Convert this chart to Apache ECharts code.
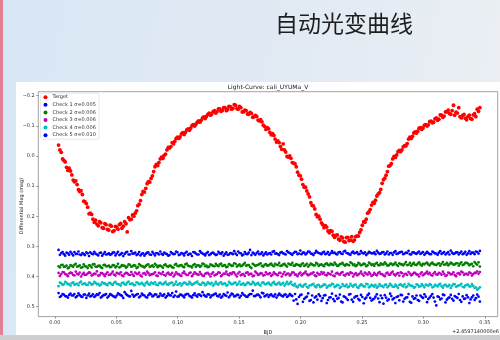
<!DOCTYPE html>
<html><head><meta charset="utf-8">
<script src="https://cdn.jsdelivr.net/npm/echarts@6/dist/echarts.min.js"></script>
<style>html,body{margin:0;padding:0;background:#e3ebf4}#c{width:500px;height:340px}</style>
</head><body><div id="c"></div>
<script>
const pageTitle = '自动光变曲线';
const chartTitle = 'Light-Curve: cali_UYUMa_V';
const xName = 'BJD';
const yName = 'Differential Mag (mag)';
const offsetText = '+2.4597140000e6';
const xTicks = [0.00,0.05,0.10,0.15,0.20,0.25,0.30,0.35];
const yTicks = [-0.2,-0.1,0.0,0.1,0.2,0.3,0.4,0.5];
const seriesNames = ['Target','Check 1 σ=0.005','Check 2 σ=0.006','Check 3 σ=0.006','Check 4 σ=0.006','Check 5 σ=0.010'];

// observation times (BJD - 2459714), first batch
const timesA = [
0.0030,0.0052,0.0073,0.0095,0.0116,0.0138,0.0159,0.0181,0.0202,0.0224,
0.0245,0.0267,0.0288,0.0310,0.0331,0.0353,0.0374,0.0396,0.0417,0.0439,
0.0460,0.0482,0.0503,0.0525,0.0546,0.0568,0.0589,0.0611,0.0632,0.0654,
0.0675,0.0697,0.0718,0.0740,0.0761,0.0783,0.0804,0.0826,0.0847,0.0869,
0.0890,0.0912,0.0933,0.0955,0.0976,0.0998,0.1019,0.1041,0.1062,0.1084,
0.1105,0.1127,0.1148,0.1170,0.1191,0.1213,0.1234,0.1256,0.1277,0.1299,
0.1320,0.1342,0.1363,0.1385,0.1406,0.1428,0.1449,0.1471,0.1492,0.1514,
0.1535,0.1557,0.1578,0.1600,0.1621,0.1643,0.1664,0.1686,0.1707,0.1729,
0.1750,0.1772,0.1793,0.1815,0.1836,0.1858,0.1879,0.1901,0.1922,0.1944,
0.1965,0.1987,0.2008,0.2030,0.2051,0.2073,0.2094,0.2116,0.2137,0.2159,
0.2180,0.2202,0.2223,0.2245,0.2266,0.2288,0.2309,0.2331,0.2352,0.2374,
0.2395,0.2417,0.2438,0.2460,0.2481,0.2503,0.2524,0.2546,0.2567,0.2589,
0.2610,0.2632,0.2653,0.2675,0.2696,0.2718,0.2739,0.2761,0.2782,0.2804,
0.2825,0.2847,0.2868,0.2890,0.2911,0.2933,0.2954,0.2976,0.2997,0.3019,
0.3040,0.3062,0.3083,0.3105,0.3126,0.3148,0.3169,0.3191,0.3212,0.3234,
0.3255,0.3277,0.3298,0.3320,0.3341,0.3363,0.3384,0.3406,0.3427,0.3449];
// second batch of exposures, interleaved
const timesB = [
0.0041,0.0063,0.0084,0.0106,0.0127,0.0149,0.0170,0.0192,0.0213,0.0235,
0.0256,0.0278,0.0299,0.0321,0.0342,0.0364,0.0385,0.0407,0.0428,0.0450,
0.0471,0.0493,0.0514,0.0536,0.0557,0.0579,0.0600,0.0622,0.0643,0.0665,
0.0686,0.0708,0.0729,0.0751,0.0772,0.0794,0.0815,0.0837,0.0858,0.0880,
0.0901,0.0923,0.0944,0.0966,0.0987,0.1009,0.1030,0.1052,0.1073,0.1095,
0.1116,0.1138,0.1159,0.1181,0.1202,0.1224,0.1245,0.1267,0.1288,0.1310,
0.1331,0.1353,0.1374,0.1396,0.1417,0.1439,0.1460,0.1482,0.1503,0.1525,
0.1546,0.1568,0.1589,0.1611,0.1632,0.1654,0.1675,0.1697,0.1718,0.1740,
0.1761,0.1783,0.1804,0.1826,0.1847,0.1869,0.1890,0.1912,0.1933,0.1955,
0.1976,0.1998,0.2019,0.2041,0.2062,0.2084,0.2105,0.2127,0.2148,0.2170,
0.2191,0.2213,0.2234,0.2256,0.2277,0.2299,0.2320,0.2342,0.2363,0.2385,
0.2406,0.2428,0.2449,0.2471,0.2492,0.2514,0.2535,0.2557,0.2578,0.2600,
0.2621,0.2643,0.2664,0.2686,0.2707,0.2729,0.2750,0.2772,0.2793,0.2815,
0.2836,0.2858,0.2879,0.2901,0.2922,0.2944,0.2965,0.2987,0.3008,0.3030,
0.3051,0.3073,0.3094,0.3116,0.3137,0.3159,0.3180,0.3202,0.3223,0.3245,
0.3266,0.3288,0.3309,0.3331,0.3352,0.3374,0.3395,0.3417,0.3438,0.3460];

const targetA = [
-0.036,-0.012,0.015,0.038,0.041,0.063,0.086,0.095,0.118,0.128,
0.152,0.170,0.190,0.210,0.213,0.232,0.222,0.240,0.228,0.246,
0.233,0.248,0.236,0.228,0.240,0.218,0.252,0.212,0.196,0.190,
0.165,0.148,0.118,0.108,0.085,0.075,0.052,0.028,0.022,0.004,
-0.002,-0.020,-0.026,-0.044,-0.048,-0.062,-0.063,-0.077,-0.078,-0.090,
-0.092,-0.104,-0.105,-0.116,-0.118,-0.129,-0.131,-0.142,-0.139,-0.150,
-0.147,-0.156,-0.151,-0.160,-0.154,-0.163,-0.158,-0.168,-0.155,-0.160,
-0.146,-0.150,-0.138,-0.141,-0.130,-0.131,-0.116,-0.113,-0.098,-0.094,
-0.078,-0.074,-0.056,-0.050,-0.031,-0.040,-0.013,0.004,0.008,0.024,
0.036,0.064,0.077,0.104,0.116,0.136,0.164,0.176,0.202,0.210,
0.228,0.231,0.249,0.248,0.263,0.264,0.276,0.269,0.284,0.271,
0.281,0.268,0.279,0.265,0.254,0.230,0.220,0.190,0.178,0.154,
0.147,0.126,0.111,0.079,0.064,0.034,0.026,0.002,-0.003,-0.018,
-0.020,-0.034,-0.041,-0.062,-0.065,-0.080,-0.082,-0.094,-0.093,-0.104,
-0.103,-0.115,-0.112,-0.126,-0.122,-0.135,-0.132,-0.146,-0.141,-0.150,
-0.135,-0.142,-0.130,-0.134,-0.125,-0.131,-0.124,-0.136,-0.130,-0.148];
const targetB = [
-0.020,0.010,0.020,0.048,0.050,0.080,0.083,0.112,0.115,0.150,
0.158,0.192,0.194,0.220,0.226,0.218,0.238,0.225,0.244,0.230,
0.251,0.234,0.243,0.224,0.233,0.225,0.205,0.210,0.200,0.182,
0.160,0.128,0.120,0.092,0.087,0.066,0.036,0.032,0.010,0.008,
-0.006,-0.028,-0.031,-0.040,-0.058,-0.058,-0.073,-0.071,-0.086,-0.085,
-0.100,-0.099,-0.112,-0.112,-0.126,-0.124,-0.138,-0.135,-0.147,-0.142,
-0.156,-0.148,-0.160,-0.150,-0.164,-0.155,-0.170,-0.157,-0.164,-0.146,
-0.152,-0.139,-0.144,-0.128,-0.134,-0.119,-0.120,-0.102,-0.088,-0.090,
-0.070,-0.068,-0.046,-0.044,-0.022,-0.020,0.002,0.000,0.022,0.026,
0.054,0.066,0.095,0.104,0.126,0.155,0.166,0.194,0.200,0.222,
0.238,0.236,0.255,0.250,0.270,0.262,0.280,0.272,0.286,0.270,
0.279,0.283,0.268,0.266,0.245,0.218,0.210,0.186,0.163,0.157,
0.133,0.122,0.091,0.074,0.052,0.032,0.010,0.005,-0.014,-0.014,
-0.030,-0.033,-0.056,-0.058,-0.076,-0.076,-0.092,-0.088,-0.102,-0.099,
-0.114,-0.110,-0.123,-0.118,-0.136,-0.128,-0.146,-0.152,-0.138,-0.168,
-0.145,-0.160,-0.126,-0.138,-0.120,-0.135,-0.122,-0.140,-0.155,-0.160];

const check1A = [
0.312,0.322,0.326,0.321,0.328,0.324,0.319,0.325,0.327,0.322,0.329,0.323,0.320,0.326,0.324,0.330,0.321,0.325,0.327,0.323,
0.326,0.320,0.324,0.329,0.322,0.325,0.318,0.327,0.324,0.321,0.326,0.330,0.323,0.325,0.320,0.328,0.324,0.322,0.327,0.325,
0.321,0.326,0.329,0.323,0.325,0.320,0.327,0.324,0.322,0.328,0.325,0.319,0.324,0.327,0.321,0.326,0.323,0.329,0.322,0.325,
0.327,0.323,0.320,0.325,0.328,0.322,0.326,0.324,0.317,0.323,0.327,0.325,0.321,0.329,0.324,0.322,0.326,0.320,0.325,0.327,
0.322,0.318,0.324,0.326,0.321,0.323,0.327,0.320,0.325,0.322,0.319,0.324,0.326,0.321,0.323,0.318,0.325,0.322,0.320,0.324,
0.321,0.326,0.319,0.323,0.322,0.325,0.320,0.324,0.317,0.322,0.326,0.321,0.323,0.319,0.325,0.322,0.320,0.324,0.321,0.323,
0.326,0.321,0.324,0.319,0.323,0.327,0.322,0.320,0.325,0.321,0.318,0.324,0.322,0.326,0.320,0.323,0.321,0.325,0.319,0.323,
0.322,0.326,0.320,0.324,0.321,0.325,0.319,0.323,0.327,0.321,0.324,0.320,0.322,0.326,0.318,0.323,0.325,0.321,0.317,0.324];
const check1B = [
0.328,0.319,0.331,0.323,0.318,0.330,0.325,0.317,0.329,0.326,0.320,0.332,0.324,0.318,0.327,0.322,0.331,0.319,0.326,0.328,
0.321,0.330,0.318,0.326,0.332,0.320,0.327,0.316,0.324,0.329,0.319,0.325,0.331,0.321,0.327,0.318,0.330,0.323,0.317,0.328,
0.324,0.331,0.319,0.326,0.317,0.329,0.322,0.330,0.318,0.325,0.332,0.320,0.327,0.316,0.324,0.330,0.319,0.326,0.321,0.329,
0.318,0.325,0.331,0.320,0.327,0.323,0.316,0.329,0.322,0.330,0.319,0.326,0.312,0.321,0.328,0.317,0.325,0.330,0.320,0.324,
0.327,0.316,0.323,0.329,0.319,0.325,0.316,0.322,0.328,0.318,0.326,0.314,0.321,0.327,0.317,0.324,0.329,0.315,0.322,0.326,
0.318,0.324,0.328,0.316,0.321,0.327,0.319,0.325,0.315,0.323,0.328,0.317,0.322,0.326,0.316,0.324,0.329,0.318,0.323,0.320,
0.315,0.325,0.320,0.327,0.317,0.322,0.328,0.316,0.324,0.319,0.326,0.321,0.315,0.327,0.320,0.325,0.317,0.322,0.328,0.318,
0.326,0.317,0.323,0.328,0.316,0.322,0.327,0.319,0.314,0.325,0.320,0.327,0.317,0.323,0.328,0.316,0.321,0.326,0.319,0.315];

const check2A = [
0.366,0.362,0.368,0.364,0.370,0.365,0.361,0.367,0.363,0.369,0.366,0.372,0.364,0.360,0.367,0.365,0.369,0.362,0.366,0.364,
0.368,0.363,0.366,0.370,0.362,0.365,0.367,0.361,0.366,0.364,0.369,0.363,0.367,0.365,0.360,0.366,0.368,0.363,0.365,0.367,
0.362,0.366,0.364,0.369,0.361,0.365,0.363,0.367,0.360,0.364,0.366,0.362,0.368,0.363,0.365,0.359,0.364,0.367,0.362,0.366,
0.363,0.360,0.365,0.362,0.367,0.361,0.364,0.358,0.363,0.366,0.360,0.364,0.362,0.372,0.361,0.363,0.359,0.365,0.361,0.364,
0.360,0.363,0.358,0.362,0.365,0.360,0.363,0.357,0.361,0.364,0.359,0.362,0.360,0.365,0.358,0.362,0.360,0.363,0.358,0.361,
0.363,0.359,0.361,0.357,0.362,0.360,0.364,0.358,0.361,0.359,0.363,0.356,0.360,0.362,0.358,0.361,0.359,0.363,0.357,0.360,
0.358,0.362,0.356,0.360,0.358,0.363,0.357,0.359,0.361,0.356,0.360,0.358,0.362,0.355,0.359,0.361,0.357,0.360,0.358,0.356,
0.360,0.357,0.359,0.362,0.356,0.358,0.361,0.355,0.359,0.357,0.360,0.356,0.358,0.362,0.355,0.357,0.360,0.366,0.357,0.353];
const check2B = [
0.370,0.361,0.367,0.373,0.362,0.368,0.358,0.366,0.371,0.360,0.367,0.363,0.370,0.359,0.368,0.364,0.372,0.361,0.366,0.369,
0.362,0.370,0.358,0.367,0.364,0.371,0.360,0.368,0.362,0.372,0.359,0.366,0.370,0.361,0.368,0.363,0.358,0.369,0.364,0.371,
0.360,0.368,0.365,0.371,0.358,0.366,0.362,0.369,0.357,0.366,0.370,0.359,0.363,0.368,0.357,0.366,0.369,0.360,0.365,0.358,
0.366,0.357,0.364,0.369,0.359,0.365,0.356,0.367,0.360,0.364,0.355,0.362,0.368,0.358,0.365,0.361,0.356,0.367,0.359,0.363,
0.357,0.366,0.361,0.355,0.364,0.358,0.367,0.360,0.355,0.364,0.361,0.366,0.356,0.362,0.367,0.357,0.363,0.355,0.365,0.360,
0.366,0.356,0.363,0.360,0.354,0.365,0.359,0.355,0.364,0.361,0.353,0.362,0.366,0.355,0.363,0.357,0.366,0.354,0.362,0.365,
0.355,0.363,0.360,0.353,0.364,0.358,0.362,0.354,0.365,0.359,0.363,0.352,0.361,0.364,0.355,0.362,0.353,0.364,0.360,0.354,
0.363,0.354,0.361,0.358,0.364,0.352,0.360,0.363,0.354,0.361,0.356,0.364,0.353,0.360,0.355,0.363,0.358,0.352,0.361,0.367];

const check3A = [
0.388,0.392,0.386,0.394,0.390,0.389,0.396,0.391,0.387,0.393,0.395,0.390,0.388,0.394,0.392,0.397,0.389,0.393,0.391,0.395,
0.390,0.394,0.388,0.392,0.396,0.391,0.389,0.395,0.393,0.387,0.392,0.396,0.390,0.394,0.389,0.393,0.391,0.397,0.388,0.392,
0.395,0.390,0.393,0.388,0.394,0.392,0.396,0.389,0.391,0.395,0.387,0.393,0.390,0.394,0.392,0.398,0.389,0.393,0.391,0.396,
0.392,0.388,0.395,0.391,0.393,0.389,0.386,0.394,0.390,0.396,0.392,0.388,0.394,0.391,0.397,0.389,0.393,0.390,0.395,0.392,
0.389,0.394,0.391,0.396,0.388,0.392,0.395,0.390,0.393,0.387,0.394,0.391,0.396,0.389,0.392,0.394,0.390,0.396,0.388,0.393,
0.391,0.395,0.389,0.393,0.397,0.390,0.392,0.388,0.395,0.391,0.394,0.389,0.393,0.396,0.390,0.392,0.387,0.394,0.391,0.395,
0.393,0.389,0.392,0.396,0.390,0.394,0.388,0.393,0.391,0.397,0.389,0.392,0.395,0.390,0.393,0.388,0.394,0.391,0.396,0.389,
0.392,0.395,0.390,0.393,0.388,0.394,0.391,0.396,0.389,0.392,0.395,0.390,0.393,0.387,0.391,0.394,0.389,0.392,0.388,0.391];
const check3B = [
0.398,0.385,0.392,0.399,0.387,0.395,0.384,0.393,0.400,0.388,0.394,0.386,0.397,0.390,0.383,0.396,0.389,0.399,0.386,0.394,
0.384,0.397,0.390,0.386,0.399,0.388,0.394,0.385,0.398,0.391,0.387,0.400,0.389,0.384,0.396,0.392,0.386,0.398,0.390,0.385,
0.397,0.387,0.394,0.400,0.386,0.392,0.398,0.384,0.395,0.389,0.399,0.386,0.393,0.385,0.397,0.391,0.388,0.400,0.386,0.394,
0.386,0.399,0.390,0.384,0.396,0.392,0.387,0.400,0.385,0.393,0.398,0.386,0.391,0.399,0.384,0.395,0.389,0.397,0.386,0.392,
0.398,0.386,0.393,0.388,0.400,0.385,0.391,0.397,0.386,0.394,0.399,0.387,0.392,0.384,0.396,0.390,0.386,0.399,0.393,0.385,
0.387,0.396,0.391,0.384,0.399,0.388,0.394,0.385,0.397,0.390,0.386,0.400,0.389,0.393,0.384,0.397,0.391,0.386,0.398,0.388,
0.396,0.385,0.392,0.399,0.387,0.394,0.384,0.397,0.389,0.386,0.399,0.391,0.385,0.396,0.388,0.393,0.400,0.386,0.392,0.384,
0.388,0.397,0.385,0.394,0.390,0.384,0.398,0.387,0.393,0.386,0.399,0.389,0.384,0.395,0.391,0.386,0.397,0.388,0.383,0.385];

const check4A = [
0.432,0.423,0.426,0.421,0.425,0.422,0.427,0.424,0.420,0.426,0.423,0.428,0.422,0.425,0.421,0.424,0.427,0.423,0.426,0.422,
0.425,0.421,0.424,0.427,0.422,0.426,0.420,0.425,0.423,0.428,0.421,0.424,0.426,0.422,0.425,0.420,0.424,0.427,0.423,0.425,
0.422,0.426,0.423,0.420,0.425,0.428,0.422,0.424,0.421,0.426,0.423,0.425,0.420,0.424,0.427,0.422,0.426,0.423,0.421,0.425,
0.424,0.421,0.426,0.423,0.428,0.422,0.425,0.420,0.424,0.427,0.423,0.426,0.421,0.425,0.422,0.424,0.427,0.421,0.425,0.423,
0.426,0.422,0.425,0.423,0.427,0.421,0.424,0.426,0.418,0.430,0.433,0.429,0.432,0.428,0.434,0.430,0.427,0.432,0.429,0.435,
0.431,0.428,0.433,0.430,0.426,0.432,0.429,0.434,0.431,0.427,0.433,0.430,0.428,0.435,0.431,0.429,0.433,0.426,0.432,0.430,
0.428,0.433,0.430,0.435,0.427,0.431,0.429,0.434,0.432,0.428,0.430,0.426,0.433,0.429,0.431,0.435,0.428,0.432,0.430,0.427,
0.431,0.428,0.434,0.430,0.427,0.432,0.429,0.433,0.428,0.431,0.426,0.432,0.429,0.434,0.430,0.427,0.433,0.431,0.437,0.440];
const check4B = [
0.420,0.428,0.418,0.426,0.430,0.419,0.425,0.429,0.417,0.424,0.428,0.420,0.427,0.418,0.426,0.430,0.419,0.423,0.429,0.421,
0.428,0.418,0.425,0.430,0.420,0.427,0.417,0.424,0.429,0.419,0.426,0.421,0.430,0.418,0.427,0.423,0.419,0.429,0.420,0.426,
0.418,0.427,0.421,0.429,0.417,0.425,0.430,0.420,0.426,0.418,0.428,0.422,0.417,0.427,0.420,0.429,0.419,0.425,0.430,0.418,
0.427,0.419,0.424,0.430,0.418,0.426,0.421,0.428,0.417,0.425,0.429,0.420,0.426,0.418,0.428,0.421,0.430,0.419,0.426,0.420,
0.429,0.418,0.427,0.420,0.425,0.430,0.418,0.423,0.427,0.424,0.436,0.427,0.434,0.425,0.437,0.429,0.424,0.436,0.428,0.433,
0.426,0.437,0.429,0.424,0.435,0.428,0.438,0.425,0.432,0.436,0.424,0.434,0.427,0.438,0.426,0.433,0.424,0.436,0.428,0.434,
0.437,0.425,0.432,0.428,0.436,0.424,0.434,0.427,0.438,0.426,0.433,0.436,0.424,0.431,0.437,0.426,0.434,0.425,0.436,0.429,
0.425,0.436,0.428,0.433,0.424,0.437,0.427,0.432,0.438,0.425,0.434,0.429,0.424,0.436,0.428,0.433,0.425,0.438,0.444,0.436];

const check5A = [
0.455,0.464,0.460,0.466,0.461,0.463,0.458,0.465,0.462,0.468,0.460,0.463,0.466,0.459,0.464,0.461,0.470,0.462,0.458,0.465,
0.461,0.467,0.463,0.459,0.464,0.452,0.462,0.466,0.460,0.463,0.458,0.465,0.461,0.468,0.462,0.459,0.464,0.460,0.466,0.463,
0.459,0.465,0.462,0.455,0.463,0.467,0.460,0.464,0.461,0.458,0.466,0.462,0.463,0.459,0.465,0.461,0.467,0.460,0.463,0.458,
0.464,0.460,0.466,0.462,0.453,0.463,0.459,0.465,0.461,0.464,0.460,0.467,0.462,0.458,0.465,0.461,0.463,0.454,0.466,0.460,
0.462,0.465,0.459,0.463,0.461,0.466,0.460,0.464,0.462,0.480,0.476,0.468,0.460,0.474,0.467,0.481,0.463,0.470,0.477,0.465,
0.472,0.462,0.478,0.469,0.475,0.464,0.471,0.483,0.466,0.473,0.460,0.477,0.470,0.465,0.479,0.468,0.474,0.462,0.471,0.476,
0.467,0.473,0.463,0.490,0.470,0.476,0.465,0.472,0.468,0.479,0.462,0.474,0.469,0.484,0.466,0.472,0.478,0.463,0.471,0.467,
0.475,0.464,0.470,0.496,0.468,0.473,0.462,0.477,0.469,0.474,0.465,0.471,0.478,0.466,0.473,0.469,0.476,0.463,0.472,0.467];
const check5B = [
0.468,0.458,0.465,0.470,0.457,0.463,0.469,0.456,0.466,0.460,0.471,0.457,0.464,0.468,0.459,0.455,0.466,0.461,0.470,0.458,
0.464,0.469,0.456,0.462,0.471,0.458,0.465,0.448,0.467,0.460,0.469,0.457,0.463,0.470,0.456,0.466,0.459,0.468,0.457,0.464,
0.470,0.457,0.463,0.468,0.450,0.466,0.461,0.469,0.458,0.464,0.470,0.456,0.467,0.461,0.452,0.465,0.459,0.469,0.462,0.457,
0.466,0.470,0.458,0.464,0.469,0.457,0.466,0.461,0.470,0.455,0.463,0.468,0.458,0.447,0.465,0.460,0.469,0.456,0.463,0.468,
0.459,0.466,0.470,0.457,0.464,0.460,0.468,0.458,0.465,0.458,0.491,0.462,0.484,0.470,0.456,0.478,0.486,0.466,0.459,0.481,
0.463,0.488,0.470,0.457,0.482,0.474,0.460,0.486,0.468,0.478,0.458,0.484,0.466,0.475,0.461,0.489,0.470,0.457,0.480,0.473,
0.459,0.485,0.472,0.462,0.480,0.457,0.476,0.488,0.466,0.461,0.483,0.470,0.458,0.487,0.474,0.463,0.481,0.468,0.459,0.485,
0.470,0.458,0.483,0.466,0.476,0.460,0.486,0.472,0.461,0.480,0.468,0.458,0.484,0.474,0.462,0.488,0.469,0.478,0.460,0.483];

const colors = ['#ff0000','#0000ff','#008000','#bf00bf','#00bfbf','#0000ff'];
const allA = [targetA, check1A, check2A, check3A, check4A, check5A];
const allB = [targetB, check1B, check2B, check3B, check4B, check5B];
const sizes = [3.8, 2.7, 2.7, 2.7, 2.7, 2.7];

const chart = echarts.init(document.getElementById('c'), null, {renderer: 'canvas'});
const tickFont = 'DejaVu Sans';
const series = allA.map((arr, k) => ({
  type: 'scatter',
  name: seriesNames[k],
  data: timesA.map((t, i) => [t, arr[i]]).concat(timesB.map((t, i) => [t, allB[k][i]])),
  symbol: 'circle',
  symbolSize: sizes[k],
  itemStyle: {color: colors[k], opacity: 1},
  emphasis: {disabled: true},
  z: 3
}));

chart.setOption({
  animation: false,
  graphic: [
    {type: 'rect', z: -10, shape: {x: 0, y: 0, width: 500, height: 340},
     style: {fill: new echarts.graphic.LinearGradient(0, 0, 1, 0.3, [
       {offset: 0, color: '#d8e7f5'}, {offset: 0.6, color: '#e2eaf3'}, {offset: 1, color: '#ebeff4'}])}},
    {type: 'rect', z: -9, shape: {x: 0, y: 0, width: 3, height: 336}, style: {fill: '#e27f93'}},
    {type: 'rect', z: -9, shape: {x: 16, y: 82, width: 484, height: 253}, style: {fill: '#ffffff'}},
    {type: 'rect', z: -9, shape: {x: 0, y: 335, width: 500, height: 5}, style: {fill: '#cdcfd2'}},
    {type: 'text', z: 10, x: 344, y: 23, style: {text: pageTitle, fill: '#1e1e1e',
      font: '23px "Noto Sans CJK SC"', textAlign: 'center', textVerticalAlign: 'middle'}},
    {type: 'text', z: 10, x: 268, y: 87.5, style: {text: chartTitle, fill: '#222',
      font: '6px "' + tickFont + '"', textAlign: 'center', textVerticalAlign: 'middle'}},
    {type: 'text', z: 10, x: 22, y: 206, rotation: Math.PI / 2, style: {text: yName, fill: '#222',
      font: '5px "' + tickFont + '"', textAlign: 'center', textVerticalAlign: 'middle'}},
    {type: 'text', z: 10, x: 499, y: 331.5, style: {text: offsetText, fill: '#222',
      font: '5px "' + tickFont + '"', textAlign: 'right', textVerticalAlign: 'middle'}}
  ],
  legend: {
    orient: 'vertical', left: 40.5, top: 93.2,
    data: seriesNames,
    icon: 'circle', itemWidth: 4, itemHeight: 4, itemGap: 2.6, itemTextGap: 5,
    backgroundColor: 'rgba(255,255,255,0.85)', borderColor: '#d8d8d8', borderWidth: 0.6,
    borderRadius: 2, padding: [1.5, 3, 1.5, 3],
    textStyle: {fontSize: 5, color: '#333', fontFamily: tickFont, lineHeight: 4},
    selectedMode: false
  },
  grid: {left: 38.3, top: 91.7, right: 2.3, bottom: 19.3, show: true,
    borderColor: '#8a8a8a', borderWidth: 0.8, backgroundColor: '#ffffff'},
  xAxis: {
    type: 'value', min: -0.0135, max: 0.3605,
    name: xName, nameLocation: 'middle', nameGap: 11,
    nameTextStyle: {fontSize: 5, color: '#222', fontFamily: tickFont},
    axisLine: {show: false, onZero: false},
    splitLine: {show: false},
    axisTick: {show: true, customValues: xTicks, length: 2, lineStyle: {color: '#555', width: 0.6}},
    axisLabel: {customValues: xTicks, fontSize: 5, color: '#333', margin: 3.5, fontFamily: tickFont,
      formatter: v => v.toFixed(2)}
  },
  yAxis: {
    type: 'value', inverse: true, min: -0.213, max: 0.533,
    axisLine: {show: false, onZero: false},
    splitLine: {show: false},
    axisTick: {show: true, customValues: yTicks, length: 2, lineStyle: {color: '#555', width: 0.6}},
    axisLabel: {customValues: yTicks, fontSize: 5, color: '#333', margin: 3.5, fontFamily: tickFont,
      formatter: v => (v < -1e-9 ? '\u2212' : '') + Math.abs(v).toFixed(1)}
  },
  series: series
});
</script>
</body></html>
